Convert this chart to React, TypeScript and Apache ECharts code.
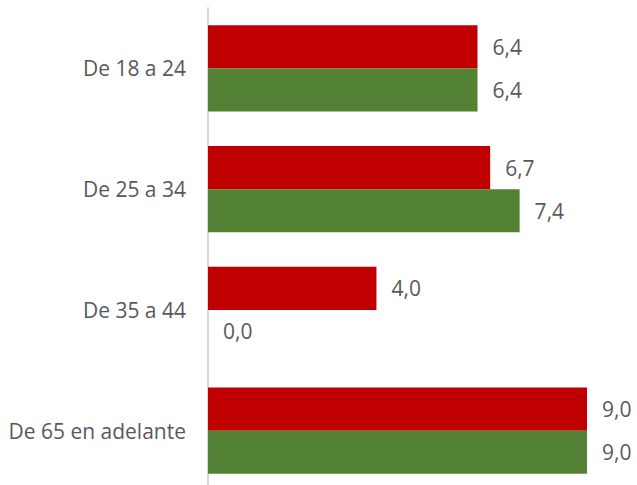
import React, { useEffect, useRef } from "react";
import * as echarts from "echarts";

const categories = ["De 18 a 24", "De 25 a 34", "De 35 a 44", "De 65 en adelante"];
const seriesRed = [6.4, 6.7, 4.0, 9.0];
const seriesGreen = [6.4, 7.4, 0.0, 9.0];

const FONT = "'Open Sans', sans-serif";
const TEXT = "#595959";

export default function App() {
  const ref = useRef<HTMLDivElement>(null);
  useEffect(() => {
    if (!ref.current) return;
    const chart = echarts.init(ref.current, null, { renderer: "svg" });
    const label = {
      show: true,
      position: "right" as const,
      distance: 15,
      color: TEXT,
      fontSize: 21,
      fontFamily: FONT,
      formatter: (p: any) => Number(p.value).toFixed(1).replace(".", ","),
    };
    chart.setOption({
      animation: false,
      backgroundColor: "#ffffff",
      grid: { left: 208, right: 50, top: 8, height: 483, containLabel: false },
      xAxis: {
        type: "value",
        min: 0,
        max: 9,
        show: false,
        splitLine: { show: false },
      },
      yAxis: {
        type: "category",
        data: categories,
        inverse: true,
        axisLine: { show: true, lineStyle: { color: "#d9d9d9", width: 2 } },
        axisTick: { show: false },
        axisLabel: { color: TEXT, fontSize: 21, fontFamily: FONT, margin: 22 },
      },
      series: [
        {
          type: "bar",
          data: seriesRed,
          itemStyle: { color: "#C00000" },
          barGap: "0%",
          barCategoryGap: "28.7%",
          label,
        },
        {
          type: "bar",
          data: seriesGreen,
          itemStyle: { color: "#548235" },
          barGap: "0%",
          barCategoryGap: "28.7%",
          label,
        },
      ],
    });
    return () => chart.dispose();
  }, []);
  return (
    <div
      ref={ref}
      style={{ position: "fixed", left: 0, top: 0, width: 637, height: 495 }}
    />
  );
}
